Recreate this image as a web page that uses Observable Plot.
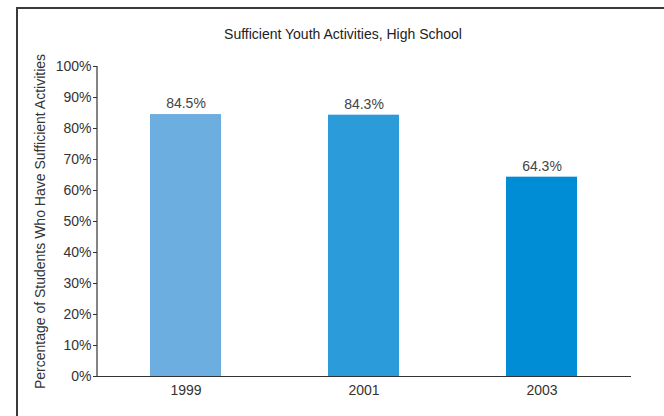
<!DOCTYPE html>
<html>
<head>
<meta charset="utf-8">
<script src="https://cdn.jsdelivr.net/npm/d3@7"></script>
<script src="https://cdn.jsdelivr.net/npm/@observablehq/plot@0.6"></script>
<style>
  html, body { margin: 0; padding: 0; background: #fff; }
  #wrap { position: relative; width: 664px; height: 416px; overflow: hidden; font-family: "Liberation Sans", Arial, sans-serif; }
  #frame { position: absolute; left: 16px; top: 7px; width: 700px; height: 500px; border-left: 2px solid #3a3a3a; border-top: 2px solid #3a3a3a; }
  #title { position: absolute; top: 26px; left: 0; width: 686px; text-align: center; font-size: 14px; color: #222; }
  #chart { position: absolute; left: 0; top: 0; }
</style>
</head>
<body>
<div id="wrap">
  <div id="frame"></div>
  <div id="title">Sufficient Youth Activities, High School</div>
  <div id="chart"></div>
</div>
<script>
const years = ["1999", "2001", "2003"];
const values = [84.5, 84.3, 64.3];
const barColors = ["#6caee0", "#2c9bd9", "#008dd5"];
const yTicks = [0, 10, 20, 30, 40, 50, 60, 70, 80, 90, 100];
const yLabel = "Percentage of Students Who Have Sufficient Activities";

const data = years.map((y, i) => ({year: y, value: values[i]}));

const chart = Plot.plot({
  width: 664,
  height: 416,
  marginLeft: 97,
  marginRight: 33,
  marginTop: 66,
  marginBottom: 40,
  style: {fontFamily: "'Liberation Sans', Arial, sans-serif", fontSize: "14px", color: "#333", background: "transparent"},
  x: {domain: years, paddingInner: 0.6, paddingOuter: 0.3},
  y: {domain: [0, 100]},
  color: {domain: years, range: barColors},
  marks: [
    Plot.barY(data, {x: "year", y: "value", fill: "year"}),
    Plot.text(data, {x: "year", y: "value", text: d => d.value.toFixed(1) + "%", dy: -11, fontSize: 14, fill: "#444"}),
    Plot.axisY({ticks: yTicks, tickFormat: d => d + "%", tickSize: 4, tickPadding: 2, stroke: "#333", label: null, fontSize: 14}),
    Plot.axisX({tickSize: 0, tickPadding: 9, stroke: "#333", label: null, fontSize: 14}),
    Plot.ruleY([0], {stroke: "#333", strokeWidth: 1.2}),
    Plot.text([yLabel], {frameAnchor: "left", textAnchor: "middle", rotate: -90, dx: -57, fontSize: 14, fill: "#333"})
  ]
});
// y-axis line along the left edge of the frame
const ys = chart.scale("y");
d3.select(chart).append("line")
  .attr("x1", 97).attr("x2", 97)
  .attr("y1", ys.apply(0)).attr("y2", ys.apply(100))
  .attr("stroke", "#333").attr("stroke-width", 1.2);
document.getElementById("chart").appendChild(chart);
</script>
</body>
</html>
